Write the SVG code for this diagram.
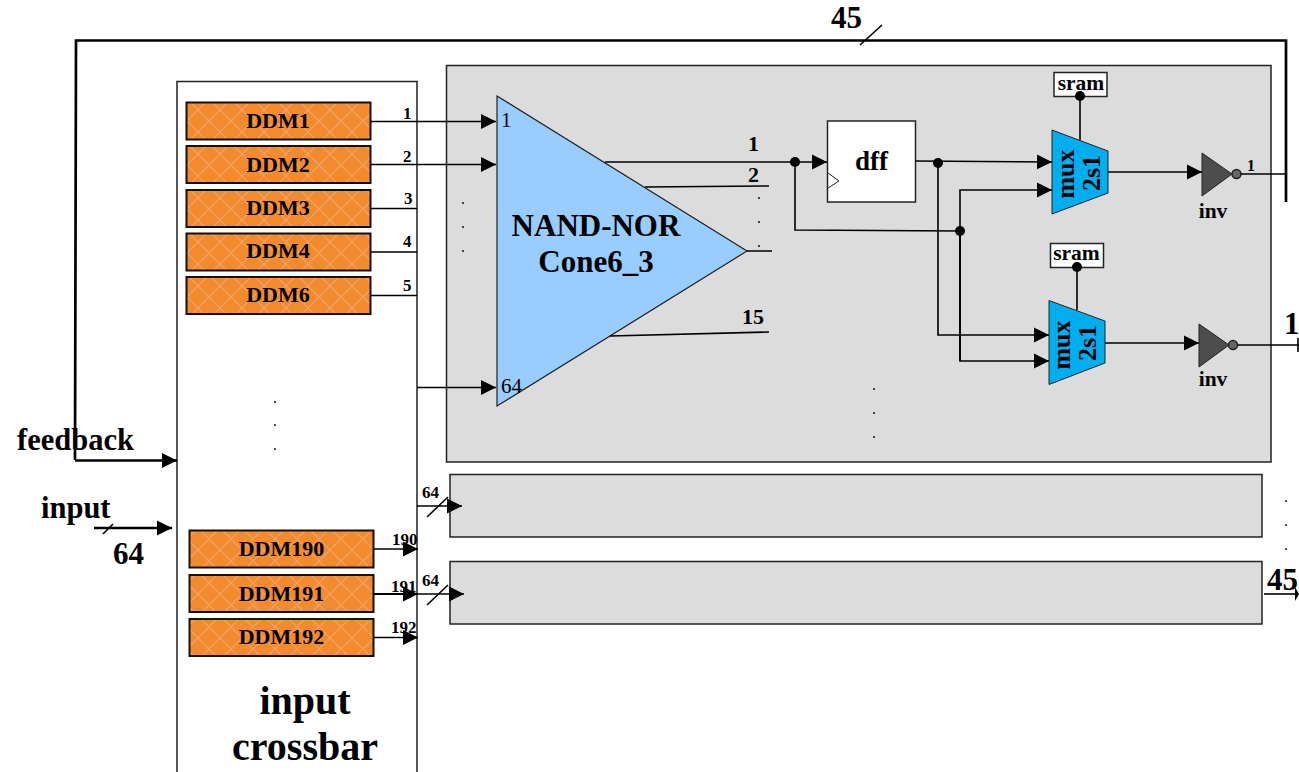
<svg xmlns="http://www.w3.org/2000/svg" width="1299" height="772" viewBox="0 0 1299 772">
<style>
text{font-family:"Liberation Serif","Times New Roman",serif;font-weight:bold;fill:#000}
.m{text-anchor:middle}
.grey{fill:#dcdcdc;stroke:#222;stroke-width:1.500}
.ddm{fill:url(#hatch);stroke:#111;stroke-width:2}
.l{fill:none;stroke:#000;stroke-width:1.600}
.t{fill:none;stroke:#000;stroke-width:2.700}
.a{marker-end:url(#arr)}
.d{font-size:22px}
.n{font-size:17px}
.mux{fill:#00aeef;stroke:#222;stroke-width:1}
.inv{fill:#4d4d4d;stroke:#222;stroke-width:1}
.bub{fill:#666;stroke:#222;stroke-width:1.500}
.s{font-size:21.500px}
</style>
<defs>
<marker id="arr" markerUnits="userSpaceOnUse" markerWidth="15" markerHeight="16" refX="15" refY="8" orient="auto"><path d="M0,0.500L15,8L0,15.500Z" fill="#000"/></marker>
<pattern id="hatch" patternUnits="userSpaceOnUse" width="22" height="22"><rect width="22" height="22" fill="#f28a2e"/><path d="M0,0L22,22M22,0L0,22" stroke="#f5a060" stroke-width="1.300"/></pattern>
</defs>
<g id="crossbar"><path d="M177,772V81.500H417V772" fill="#fff" stroke="#222" stroke-width="1.500"/>
<text class="m" x="305" y="714" font-size="40">input</text><text class="m" x="305" y="760" font-size="40">crossbar</text>
<circle cx="275" cy="402" r="1" fill="#111"/><circle cx="275" cy="425" r="1" fill="#111"/><circle cx="275" cy="449" r="1" fill="#111"/></g>
<g id="main-block"><rect class="grey" x="446.500" y="65.500" width="824.500" height="396.500"/>
<circle cx="463" cy="203" r="1" fill="#111"/><circle cx="463" cy="227" r="1" fill="#111"/><circle cx="463" cy="251" r="1" fill="#111"/>
<circle cx="874" cy="389" r="1" fill="#111"/><circle cx="874" cy="413" r="1" fill="#111"/><circle cx="874" cy="437" r="1" fill="#111"/>
<circle cx="759" cy="198" r="1" fill="#111"/><circle cx="759" cy="222" r="1" fill="#111"/><circle cx="759" cy="246" r="1" fill="#111"/></g>
<g id="block2"><rect class="grey" x="450" y="474.500" width="812" height="62.500"/></g>
<g id="block3"><rect class="grey" x="450" y="561.500" width="812" height="62.500"/></g>
<g id="ddm1"><rect class="ddm" x="186.500" y="102.500" width="184" height="37"/><text class="m d" x="278" y="128">DDM1</text></g>
<g id="ddm2"><rect class="ddm" x="186.500" y="146" width="184" height="37"/><text class="m d" x="278" y="172">DDM2</text></g>
<g id="ddm3"><rect class="ddm" x="186.500" y="190" width="184" height="37"/><text class="m d" x="278" y="215">DDM3</text></g>
<g id="ddm4"><rect class="ddm" x="186.500" y="233.500" width="184" height="37"/><text class="m d" x="278" y="258">DDM4</text></g>
<g id="ddm6"><rect class="ddm" x="186.500" y="277" width="184" height="37"/><text class="m d" x="278" y="302">DDM6</text></g>
<g id="ddm190"><rect class="ddm" x="189.500" y="530.500" width="184" height="37"/><text class="m d" x="281.500" y="556">DDM190</text></g>
<g id="ddm191"><rect class="ddm" x="189.500" y="575" width="184" height="37"/><text class="m d" x="281.500" y="601">DDM191</text></g>
<g id="ddm192"><rect class="ddm" x="189.500" y="619" width="184" height="37"/><text class="m d" x="281.500" y="644">DDM192</text></g>
<g id="cone"><path d="M497,96L747,251L497,406Z" fill="#99ccff" stroke="#222" stroke-width="1.200"/>
<text class="m" x="596" y="236" font-size="31">NAND-NOR</text><text class="m" x="596" y="272" font-size="31">Cone6_3</text>
<text x="501" y="127" font-size="21" style="font-weight:normal">1</text><text x="501" y="393" font-size="21" style="font-weight:normal">64</text></g>
<g id="dff"><rect x="827.500" y="121" width="88" height="81" fill="#fff" stroke="#222" stroke-width="1.500"/><path d="M828,173L839,181L828,188" fill="none" stroke="#222"/><text class="m" x="871.500" y="170" font-size="27">dff</text></g>
<g id="sram1"><rect x="1054" y="72.500" width="53" height="24" fill="#fff" stroke="#222" stroke-width="1.500"/><text class="m s" x="1081" y="90">sram</text></g>
<g id="sram2"><rect x="1050.500" y="243.500" width="53" height="24" fill="#fff" stroke="#222" stroke-width="1.500"/><text class="m s" x="1076.500" y="260">sram</text></g>
<g id="mux1"><path class="mux" d="M1052,130L1108,151V193L1052,214Z"/><text class="m" transform="translate(1074,174) rotate(-90)" font-size="26">mux</text><text class="m" transform="translate(1100,173) rotate(-90)" font-size="26">2s1</text></g>
<g id="mux2"><path class="mux" d="M1049,300.500L1105,321V363L1049,384.500Z"/><text class="m" transform="translate(1070,345) rotate(-90)" font-size="26">mux</text><text class="m" transform="translate(1096,343) rotate(-90)" font-size="26">2s1</text></g>
<g id="inv1"><path class="inv" d="M1202,153L1232,174L1202,196Z"/><circle class="bub" cx="1236.500" cy="174" r="4.500"/><text class="m s" x="1213" y="218">inv</text></g>
<g id="inv2"><path class="inv" d="M1199,324L1229,345L1199,367Z"/><circle class="bub" cx="1233" cy="345" r="4.500"/><text class="m s" x="1213" y="386">inv</text></g>
<g id="connectors">
<path class="l a" d="M371,121.500H496"/><path class="l a" d="M371,164.500H496"/>
<path class="l" d="M371,208.500H417M371,252H417M371,295.500H417"/>
<path class="l a" d="M417,387.500H496"/>
<path class="l a" d="M374,549H418"/><path class="t a" d="M374,594H418" style="stroke-width:2"/><path class="l a" d="M374,637.500H418"/>
<path class="l a" d="M417,506H462"/><path class="l a" d="M418,594H464"/>
<path class="l" d="M427,517L448,497M427,605L448,585"/>
<path class="l a" d="M605,162H827"/>
<path class="l" d="M645,187L769,186M747,251H772M610,336L769,332"/>
<path class="l" d="M795,162V230L960,231"/>
<path class="l a" d="M915,161L1052,162"/>
<path class="l a" d="M960,361V190H1052"/>
<path class="l a" d="M938,162V335H1049"/>
<path class="l a" d="M960,231V361H1049"/>
<path class="l" d="M1080,96V140M1077,267V310"/>
<path class="l a" d="M1108,172H1202"/><path class="l a" d="M1105,343H1199"/>
<path class="l" d="M1241,174H1286"/><path class="l" d="M1238,345H1299M1298,338V352"/>
<path class="t" d="M1286,202V40.500H76L75,460"/><path class="t a" d="M75,460.500H177"/>
<path class="l" d="M860,45L882,25"/>
<path class="t a" d="M94,528H172"/><path class="l" d="M103,534L113,524"/>
<path class="l" d="M1264,594H1296"/><path d="M1295,587L1299,594L1295,601Z" fill="#000"/>
<circle cx="795" cy="162" r="5" fill="#000"/><circle cx="938" cy="163" r="5" fill="#000"/><circle cx="960" cy="231" r="5" fill="#000"/><circle cx="1080" cy="96" r="5" fill="#000"/><circle cx="1077" cy="267" r="5" fill="#000"/>
</g>
<g id="labels">
<text class="n" x="403" y="119">1</text><text class="n" x="403" y="162">2</text><text class="n" x="404" y="204">3</text><text class="n" x="403" y="247">4</text><text class="n" x="403" y="291">5</text>
<text class="n" x="392" y="545">190</text><text class="n" x="391" y="592">191</text><text class="n" x="391" y="633">192</text>
<text class="n" x="422" y="498">64</text><text class="n" x="422" y="586">64</text>
<text x="748" y="151" font-size="22">1</text><text x="748" y="182" font-size="22">2</text><text x="742" y="324" font-size="22">15</text>
<text x="1247" y="171" font-size="16">1</text><text x="1284" y="334" font-size="31">1</text>
<text x="831" y="28" font-size="31">45</text><text x="1267" y="590" font-size="31">45</text>
<text x="17" y="450" font-size="30.500">feedback</text><text x="41" y="518" font-size="30.500">input</text><text x="113" y="564" font-size="31">64</text>
<circle cx="1286" cy="501" r="1" fill="#111"/><circle cx="1286" cy="525" r="1" fill="#111"/><circle cx="1286" cy="549" r="1" fill="#111"/>
</g>
</svg>
